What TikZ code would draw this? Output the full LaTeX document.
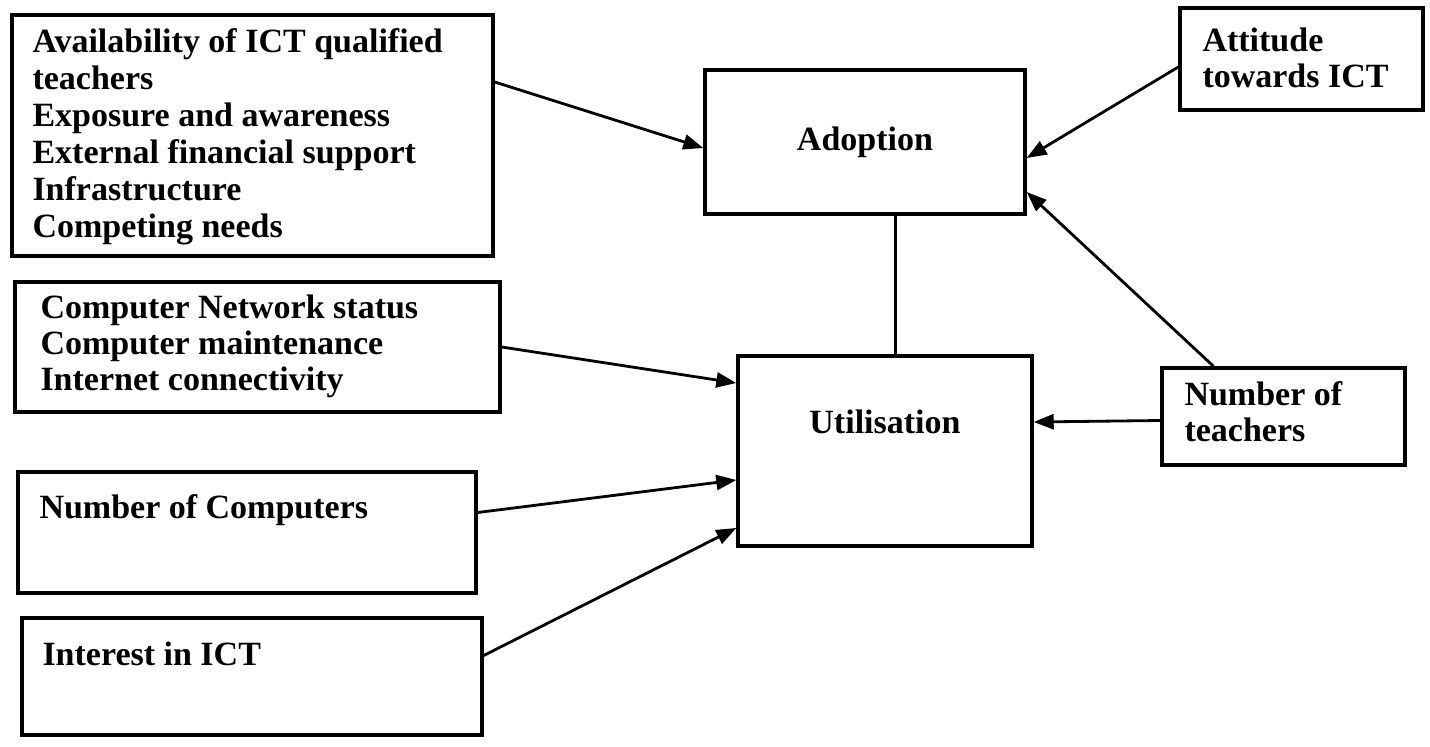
\documentclass[tikz,border=0pt]{standalone}
\usepackage{fontspec}
\setmainfont{Liberation Serif}
\usetikzlibrary{arrows.meta}
\begin{document}
\begin{tikzpicture}[x=1pt,y=-1pt,
  box/.style={draw=black, line width=3.4pt, rectangle, inner sep=0pt},
  lbl/.style={inner sep=0pt, align=left, font=\bfseries\fontsize{34}{36}\selectfont},
  txt/.style={font=\bfseries\fontsize{34}{36}\selectfont},
  arr/.style={line width=2.8pt, -{Triangle[length=20pt,width=15pt]}},
  ln/.style={line width=3pt}]
\useasboundingbox (0,0) rectangle (1430,747);
\fill[white] (0,0) rectangle (1430,747);
% left boxes
\node[box, minimum width=481pt, minimum height=241pt,
  label={[lbl, anchor=north west, xshift=22pt, yshift=-15pt]north west:{Availability of ICT qualified\\[1pt]teachers\\[1pt]Exposure and awareness\\[1pt]External financial support\\[1pt]Infrastructure\\[1pt]Competing needs}}]
  (b1) at (252.5,135.5) {};
\node[box, minimum width=485pt, minimum height=130pt,
  label={[lbl, anchor=north west, xshift=27pt, yshift=-14pt]north west:{Computer Network status\\Computer maintenance\\Internet connectivity}}]
  (b2) at (257.5,347) {};
\node[box, minimum width=458pt, minimum height=121pt,
  label={[lbl, anchor=north west, xshift=23pt, yshift=-24pt]north west:{Number of Computers}}]
  (b3) at (247,532.5) {};
\node[box, minimum width=460pt, minimum height=117pt,
  label={[lbl, anchor=north west, xshift=22pt, yshift=-25pt]north west:{Interest in ICT}}]
  (b4) at (252,676.5) {};
% central boxes
\node[box, txt, minimum width=320pt, minimum height=144pt] (ad) at (865,142) {Adoption};
\node[box, minimum width=294pt, minimum height=190pt,
  label={[txt, inner sep=0pt, yshift=29pt]center:Utilisation}]
  (ut) at (885,451) {};
% right boxes
\node[box, minimum width=243pt, minimum height=102pt,
  label={[lbl, anchor=north west, xshift=24pt, yshift=-21pt]north west:{Attitude\\towards ICT}}]
  (att) at (1301.5,59) {};
\node[box, minimum width=243pt, minimum height=97pt,
  label={[lbl, anchor=north west, xshift=24pt, yshift=-15pt]north west:{Number of\\teachers}}]
  (nt) at (1283.5,416.5) {};
% connectors
\draw[arr] ([yshift=53.5pt]b1.east) -- ([yshift=-6pt]ad.west);
\draw[arr] ([yshift=-8pt]att.west) -- ([yshift=-16pt]ad.east);
\draw[arr] ([xshift=-70pt]nt.north) -- ([yshift=-50pt]ad.east);
\draw[arr] ([yshift=-4pt]nt.west) -- ([yshift=29pt]ut.east);
\draw[ln] ([xshift=30pt]ad.south) -- ([xshift=10pt]ut.north);
\draw[arr] (b2.east) -- ([yshift=68pt]ut.west);
\draw[arr] ([yshift=20pt]b3.east) -- ([yshift=-29pt]ut.west);
\draw[arr] ([yshift=21pt]b4.east) -- ([yshift=-77pt]ut.west);
\end{tikzpicture}
\end{document}
